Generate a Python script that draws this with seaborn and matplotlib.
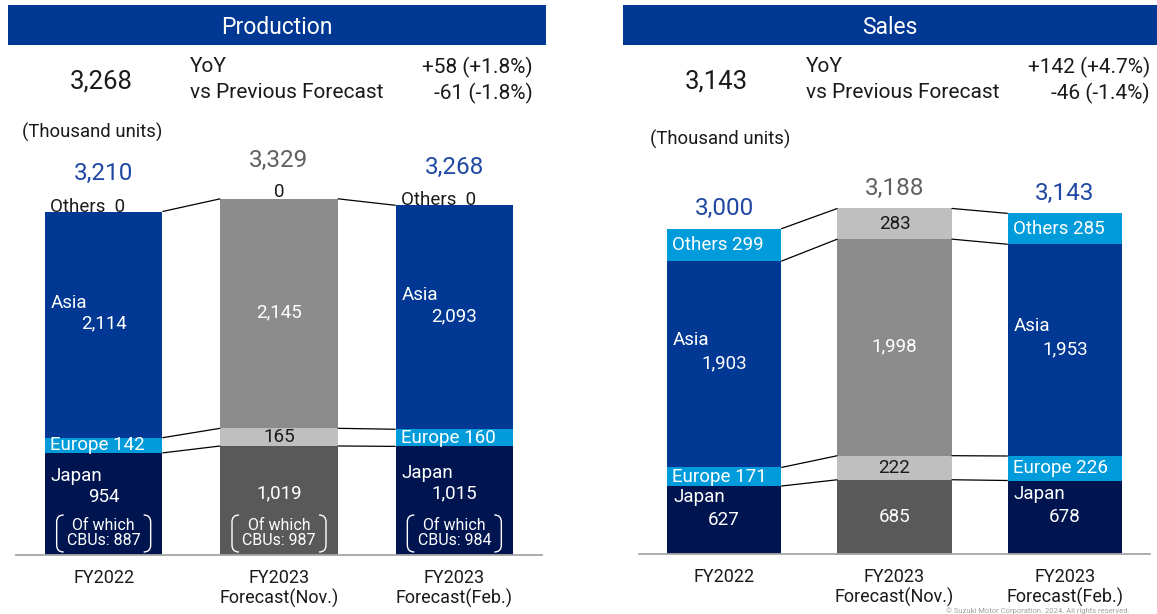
import numpy as np
import pandas as pd
import matplotlib
matplotlib.use("Agg")
import matplotlib.pyplot as plt
import matplotlib.transforms as mtransforms
from matplotlib.path import Path
from matplotlib.patches import PathPatch, Rectangle
import seaborn as sns

# ---------------------------------------------------------------- data
periods = ["FY2022", "FY2023\nForecast(Nov.)", "FY2023\nForecast(Feb.)"]

prod_japan = [954, 1019, 1015]
prod_europe = [142, 165, 160]
prod_asia = [2114, 2145, 2093]
prod_others = [0, 0, 0]
prod_totals = [3210, 3329, 3268]
prod_cbus = [887, 987, 984]

sales_japan = [627, 685, 678]
sales_europe = [171, 222, 226]
sales_asia = [1903, 1998, 1953]
sales_others = [299, 283, 285]
sales_totals = [3000, 3188, 3143]

prod_headline = "3,268"
prod_yoy = "+58 (+1.8%)"
prod_vs_prev = "-61 (-1.8%)"
sales_headline = "3,143"
sales_yoy = "+142 (+4.7%)"
sales_vs_prev = "-46 (-1.4%)"

# ---------------------------------------------------------------- style
sns.set_theme(style="white")
plt.rcParams["font.family"] = ["Roboto", "DejaVu Sans"]

HEADER = "#003893"
NAVY = "#001450"
BLUE = "#003893"
CYAN = "#009BDB"
G_DARK = "#595959"
G_MID = "#8C8C8C"
G_LIGHT = "#BFBFBF"
TOTAL_BLUE = "#1F48A3"
TOTAL_GRAY = "#606060"
DARK_TEXT = "#1a1a1a"

JAPAN_COLS = [NAVY, G_DARK, NAVY]
EUROPE_COLS = [CYAN, G_LIGHT, CYAN]
ASIA_COLS = [BLUE, G_MID, BLUE]
OTHERS_COLS = [CYAN, G_LIGHT, CYAN]
TOTAL_COLS = [TOTAL_BLUE, TOTAL_GRAY, TOTAL_BLUE]

BAR_W = 0.67
FIG_W, FIG_H = 1157, 614

fig = plt.figure(figsize=(FIG_W / 100, FIG_H / 100), dpi=100)
fig.patch.set_facecolor("white")


def fx(px):
    return px / FIG_W


def fy(py):
    return 1 - py / FIG_H


def header(x0, x1, title):
    fig.add_artist(Rectangle((fx(x0), fy(45)), fx(x1 - x0), 40 / FIG_H,
                             transform=fig.transFigure, facecolor=HEADER,
                             edgecolor="none"))
    fig.text(fx((x0 + x1) / 2), fy(27), title, color="white", fontsize=16.5,
             ha="center", va="center")


def summary(x_big, x_txt, x_right, big, yoy, prev, y_unit, x_unit):
    fig.text(fx(x_big), fy(81), big, fontsize=18.5, ha="center", va="center",
             color=DARK_TEXT)
    fig.text(fx(x_txt), fy(67), "YoY", fontsize=15, ha="left",
             va="center", color=DARK_TEXT)
    fig.text(fx(x_txt), fy(93), "vs Previous Forecast", fontsize=15,
             ha="left", va="center", color=DARK_TEXT)
    fig.text(fx(x_right), fy(67), yoy, fontsize=15, ha="right",
             va="center", color=DARK_TEXT)
    fig.text(fx(x_right), fy(93), prev, fontsize=15, ha="right",
             va="center", color=DARK_TEXT)
    fig.text(fx(x_unit), fy(y_unit), "(Thousand units)", fontsize=13.3,
             ha="left", va="center", color=DARK_TEXT)


def bracket_pair(ax, xc, half_w, y0, y1, r):
    """Rounded bracket pair (left and right) drawn in pixel units around a bar."""
    trans = (mtransforms.Affine2D().scale(1 / 100.0) + fig.dpi_scale_trans
             + mtransforms.ScaledTranslation(xc, 0, ax.transData))
    for side in (-1, 1):
        x = side * half_w
        verts = [(x - side * r, y1), (x, y1), (x, y1 - r),
                 (x, y0 + r), (x, y0), (x - side * r, y0)]
        codes = [Path.MOVETO, Path.CURVE3, Path.CURVE3,
                 Path.LINETO, Path.CURVE3, Path.CURVE3]
        ax.add_patch(PathPatch(Path(verts, codes), transform=trans,
                               facecolor="none", edgecolor="white", lw=1.0,
                               clip_on=False))


def text_color(c):
    return DARK_TEXT if c == G_LIGHT else "white"


def draw_panel(ax, layers, totals, ymax, total_dy, value_dy, name_gap,
               cbus=None):
    bottom = np.zeros(len(periods))
    tops = []
    for name, vals, cols, kind in layers:
        df = pd.DataFrame({"period": periods, "value": vals})
        sns.barplot(data=df, x="period", y="value", bottom=bottom,
                    color=cols[0], width=BAR_W, errorbar=None, saturation=1,
                    linewidth=0, edgecolor="none", ax=ax)
        for patch, c in zip(ax.patches[-len(periods):], cols):
            patch.set_facecolor(c)
        mids = bottom + np.array(vals) / 2
        for i, (v, c, m) in enumerate(zip(vals, cols, mids)):
            left = i - BAR_W / 2
            if v == 0:
                if i == 1:
                    ax.annotate(f"{v:,}", (i, bottom[i]), xytext=(0, 7),
                                textcoords="offset pixels", ha="center",
                                va="center", fontsize=13.5, color=DARK_TEXT)
                else:
                    ax.annotate(f"{name}  {v:,}", (left, bottom[i]),
                                xytext=(5, 5), textcoords="offset pixels",
                                ha="left", va="center", fontsize=13.5,
                                color=DARK_TEXT)
                continue
            tc = text_color(c)
            if i == 1:
                ax.annotate(f"{v:,}", (i, m), xytext=(0, value_dy.get(name, 0)),
                            textcoords="offset pixels", ha="center",
                            va="center", fontsize=13.5, color=tc)
            elif kind == "inline":
                ax.annotate(f"{name} {v:,}", (left, m), xytext=(5, 0),
                            textcoords="offset pixels", ha="left",
                            va="center", fontsize=13.5, color=tc)
            else:
                dy = value_dy.get(name, 0)
                ax.annotate(f"{v:,}", (i, m), xytext=(0, dy),
                            textcoords="offset pixels", ha="center",
                            va="center", fontsize=13.5, color=tc)
                ax.annotate(name, (left, m), xytext=(6, dy + name_gap),
                            textcoords="offset pixels", ha="left",
                            va="center", fontsize=13.5, color=tc)
        if np.any(np.array(vals) != 0):
            tops.append(bottom + np.array(vals))
        bottom = bottom + np.array(vals)

    # connector lines between matching boundaries of neighbouring bars
    for top in tops:
        for i in range(len(periods) - 1):
            ax.plot([i + BAR_W / 2, i + 1 - BAR_W / 2], [top[i], top[i + 1]],
                    color="black", lw=0.9, solid_capstyle="butt")

    # stacked totals above each bar
    for i, (t, c) in enumerate(zip(totals, TOTAL_COLS)):
        ax.annotate(f"{t:,}", (i, bottom[i]), xytext=(0, total_dy),
                    textcoords="offset pixels", ha="center", va="center",
                    fontsize=17.5, color=c)

    ax.set_xlim(-0.5, len(periods) - 0.5)
    ax.set_ylim(0, ymax)
    ax.set_xlabel("")
    ax.set_ylabel("")
    ax.set_yticks([])
    ax.set_xticks(range(len(periods)))
    ax.set_xticklabels(periods, fontsize=13, color=DARK_TEXT,
                       linespacing=1.12)
    ax.tick_params(axis="x", length=0, pad=10)
    for s in ("top", "left", "right"):
        ax.spines[s].set_visible(False)
    ax.spines["bottom"].set_color("#A6A6A6")
    ax.spines["bottom"].set_linewidth(1.3)
    ax.set_facecolor("none")

    if cbus is not None:
        for i, c in enumerate(cbus):
            ax.annotate(f"Of which\nCBUs: {c:,}", (i, 0), xytext=(0, 22),
                        textcoords="offset pixels", ha="center", va="center",
                        fontsize=11.5, color="white", linespacing=0.95)
            bracket_pair(ax, i, 47, 3, 40, 7)


# ---------------------------------------------------------------- headers
header(8, 546, "Production")
header(623, 1157, "Sales")
summary(101, 190, 533, prod_headline, prod_yoy, prod_vs_prev, 132, 22)
summary(716, 806, 1150, sales_headline, sales_yoy, sales_vs_prev, 139, 650)

# ---------------------------------------------------------------- production
ax_p = fig.add_axes([fx(16), 59 / FIG_H, fx(526), 405 / FIG_H])
prod_layers = [
    ("Japan", prod_japan, JAPAN_COLS, "stacked"),
    ("Europe", prod_europe, EUROPE_COLS, "inline"),
    ("Asia", prod_asia, ASIA_COLS, "stacked"),
    ("Others", prod_others, OTHERS_COLS, "inline"),
]
draw_panel(ax_p, prod_layers, prod_totals, 405 / 0.107, total_dy=38,
           value_dy={"Japan": 7, "Asia": 1}, name_gap=21, cbus=prod_cbus)

# ---------------------------------------------------------------- sales
ax_s = fig.add_axes([fx(639), 60 / FIG_H, fx(511), 404 / FIG_H])
sales_layers = [
    ("Japan", sales_japan, JAPAN_COLS, "stacked"),
    ("Europe", sales_europe, EUROPE_COLS, "inline"),
    ("Asia", sales_asia, ASIA_COLS, "stacked"),
    ("Others", sales_others, OTHERS_COLS, "inline"),
]
draw_panel(ax_s, sales_layers, sales_totals, 404 / 0.1084, total_dy=20,
           value_dy={"Japan": 0, "Asia": 1}, name_gap=23)

fig.text(fx(1130), fy(613.5), "© Suzuki Motor Corporation. 2024. All rights reserved.",
         fontsize=5.5, color="#A0A0A0", ha="right", va="bottom")

fig.savefig("out.png", dpi=100, facecolor="white")
